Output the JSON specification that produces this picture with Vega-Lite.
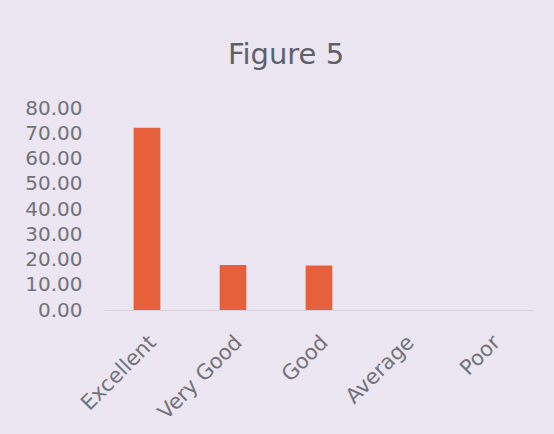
{
  "$schema": "https://vega.github.io/schema/vega-lite/v6.json",
  "autosize": "none",
  "width": 430,
  "height": 202,
  "padding": {"left": 104, "top": 108, "right": 20, "bottom": 124},
  "background": "#ebe6f2",
  "title": {"text": "Figure 5", "font": "DejaVu Sans", "fontSize": 29, "fontWeight": "normal", "color": "#606069", "offset": 28, "anchor": "middle", "dx": -33},
  "data": {"values": [
    {"rating": "Excellent", "value": 72.2},
    {"rating": "Very Good", "value": 17.8},
    {"rating": "Good", "value": 17.6},
    {"rating": "Average", "value": 0},
    {"rating": "Poor", "value": 0}
  ]},
  "mark": {"type": "bar", "color": "#e5603b"},
  "encoding": {
    "x": {"field": "rating", "type": "nominal", "sort": null,
      "scale": {"paddingInner": 0.69, "paddingOuter": 0.345},
      "axis": {"title": null, "labelAngle": -45, "labelAlign": "right", "labelBaseline": "middle", "labelFont": "DejaVu Sans", "labelFontSize": 21, "labelColor": "#72727a", "labelPadding": 29, "labelOffset": 6, "ticks": false, "domainColor": "#d8d2e0", "domainWidth": 1}},
    "y": {"field": "value", "type": "quantitative",
      "scale": {"domain": [0, 80]},
      "axis": {"title": null, "values": [0, 10, 20, 30, 40, 50, 60, 70, 80], "format": ".2f", "labelFont": "DejaVu Sans", "labelFontSize": 20, "labelColor": "#72727a", "labelPadding": 22, "ticks": false, "domain": false, "grid": false}}
  },
  "config": {"view": {"stroke": null}}
}
